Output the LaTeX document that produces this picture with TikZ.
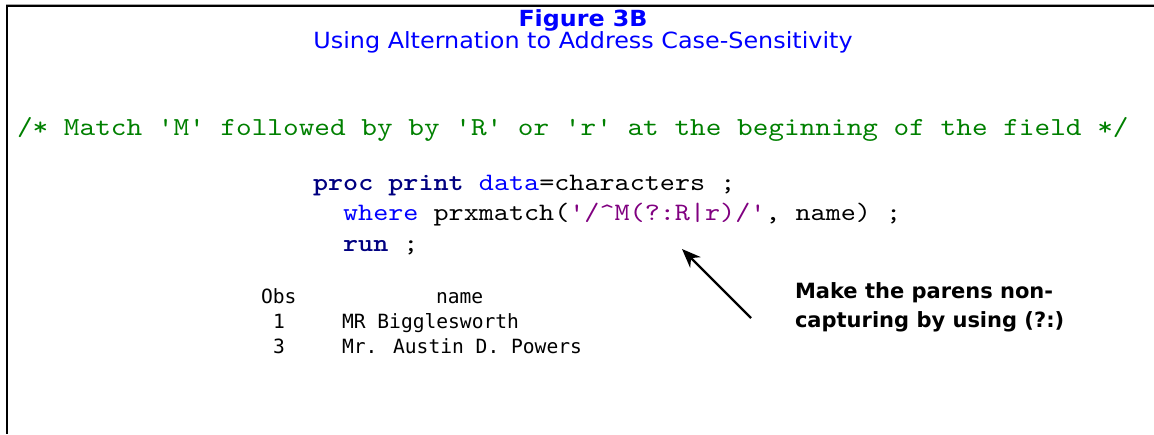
\documentclass[tikz,border=0pt]{standalone}
\usepackage{fontspec}
\setmainfont{DejaVu Sans}
\newfontfamily\headfont{DejaVu Sans}[FakeStretch=1.07]
\newfontfamily\codefont{lmmono10-regular.otf}[BoldFont=lmmonolt10-bold.otf,FakeStretch=1.147]
\newfontfamily\cmtfont{lmmono10-regular.otf}[FakeStretch=1.147]
\newfontfamily\outfont{DejaVu Sans Mono}
\usetikzlibrary{arrows.meta}
\definecolor{sasgreen}{HTML}{008000}
\definecolor{sasnavy}{HTML}{000080}
\definecolor{sasblue}{HTML}{0000FF}
\definecolor{saspurple}{HTML}{800080}
\definecolor{titleblue}{HTML}{0000FF}
\begin{document}
\begin{tikzpicture}[x=1pt,y=-1pt,
  txt/.style={inner sep=0pt,outer sep=0pt,anchor=base west},
  ctr/.style={inner sep=0pt,outer sep=0pt,anchor=base},
  titlefont/.style={font=\headfont\fontsize{22.2}{26}\selectfont\bfseries,text=titleblue},
  subfont/.style={font=\headfont\fontsize{22.3}{26}\selectfont,text=titleblue},
  cmt/.style={txt,font=\cmtfont\fontsize{26}{28}\selectfont,text=sasgreen},
  code/.style={txt,font=\codefont\fontsize{25.05}{28}\selectfont},
  outp/.style={txt,font=\outfont\fontsize{19.6}{22}\selectfont},
  note/.style={txt,font=\fontsize{21}{24}\selectfont\bfseries},
  pointer/.style={-{Stealth[length=19pt,width=15pt]},line width=2.4pt}
]
\useasboundingbox (0,0) rectangle (1154,434);
% frame
\draw[gray!70,line width=1.2pt] (6,4.2) -- (1154,4.2);
\draw[black,line width=2.2pt] (6,6) -- (1154,6);
\draw[black,line width=2.4pt] (7.2,5) -- (7.2,434);
% titles
\node[ctr,titlefont] (title) at (583,26.5) {Figure 3B};
\node[ctr,subfont] (subtitle) at (583,48.5) {Using Alternation to Address Case-Sensitivity};
% comment
\node[cmt] (comment) at (17,135) {/* Match 'M' followed by by 'R' or 'r' at the beginning of the field */};
% code
\node[code] (proc) at (313,190) {\textcolor{sasnavy}{\bfseries proc print} \textcolor{sasblue}{data}=characters ;};
\node[code] (where) at (343.1,220) {\textcolor{sasblue}{where} prxmatch(\textcolor{saspurple}{'/\char`\^M(?:R|r)/'}, name) ;};
\node[code] (run) at (343.1,251) {\textcolor{sasnavy}{\bfseries run} ;};
% output
\node[outp] (obs) at (261,303) {Obs};
\node[outp] (namehdr) at (436,303) {name};
\node[outp] (obs1) at (273,328) {1};
\node[outp] (name1) at (342,328) {MR Bigglesworth};
\node[outp] (obs3) at (273,353) {3};
\node[outp] (name3) at (342,353) {Mr. Austin D. Powers};
% annotation
\node[note] (note1) at (795,298) {Make the parens non-};
\node[note] (note2) at (795,327) {capturing by using (?:)};
\coordinate (tail) at (751,318);
\coordinate (tip) at (682,249);
\draw[pointer] (tail) -- (tip);
\end{tikzpicture}
\end{document}
